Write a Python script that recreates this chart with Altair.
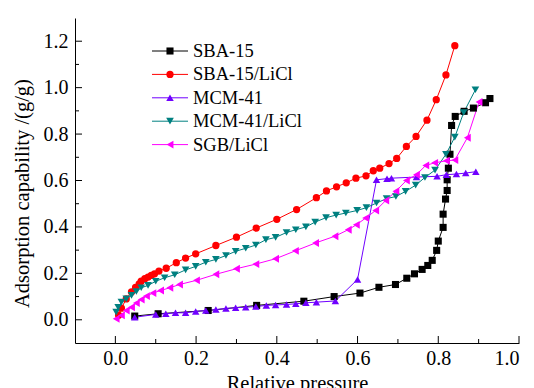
import altair as alt
import pandas as pd

names = ["SBA-15", "SBA-15/LiCl", "MCM-41", "MCM-41/LiCl", "SGB/LiCl"]
colors = ["#000000", "#FF0000", "#7000FF", "#008080", "#FF00FF"]
shapes = ["square", "circle", "triangle-up", "triangle-down", "triangle-left"]

sba15_x = [0.048, 0.106, 0.23, 0.35, 0.467, 0.542, 0.606, 0.653, 0.694, 0.722, 0.741, 0.760, 0.774, 0.785,
           0.796, 0.80, 0.812, 0.812, 0.818, 0.822, 0.822, 0.825, 0.829, 0.833, 0.842, 0.864, 0.887, 0.917, 0.928]
sba15_y = [0.016, 0.026, 0.04, 0.062, 0.08, 0.10, 0.115, 0.14, 0.152, 0.179, 0.198, 0.217, 0.234, 0.256,
           0.299, 0.339, 0.398, 0.455, 0.52, 0.557, 0.603, 0.653, 0.713, 0.837, 0.876, 0.898, 0.912, 0.935, 0.953]

sbal_x = [0.008, 0.015, 0.027, 0.04, 0.05, 0.059, 0.064, 0.073, 0.081, 0.089, 0.097, 0.108, 0.126, 0.151,
          0.174, 0.199, 0.249, 0.30, 0.349, 0.40, 0.449, 0.498, 0.523, 0.548, 0.572, 0.596, 0.621, 0.639,
          0.655, 0.678, 0.697, 0.721, 0.745, 0.772, 0.795, 0.819, 0.841]
sbal_y = [0.02, 0.05, 0.09, 0.12, 0.14, 0.155, 0.166, 0.177, 0.184, 0.191, 0.198, 0.21, 0.222, 0.246,
          0.266, 0.284, 0.32, 0.356, 0.395, 0.433, 0.475, 0.526, 0.555, 0.573, 0.59, 0.61, 0.62, 0.642,
          0.653, 0.673, 0.695, 0.747, 0.79, 0.86, 0.948, 1.055, 1.181]

mcm_x = [0.048, 0.10, 0.125, 0.149, 0.174, 0.199, 0.224, 0.249, 0.274, 0.298, 0.323, 0.348, 0.374, 0.397,
         0.424, 0.447, 0.472, 0.498, 0.545, 0.60, 0.647, 0.673, 0.684, 0.746, 0.797, 0.82, 0.845, 0.868, 0.893]
mcm_y = [0.011, 0.023, 0.026, 0.03, 0.03, 0.036, 0.04, 0.044, 0.049, 0.052, 0.054, 0.057, 0.062, 0.064,
         0.066, 0.069, 0.073, 0.076, 0.081, 0.174, 0.603, 0.608, 0.61, 0.615, 0.618, 0.625, 0.628, 0.632, 0.638]

mcml_x = [0.002, 0.007, 0.015, 0.027, 0.04, 0.052, 0.064, 0.081, 0.10, 0.122, 0.147, 0.174, 0.199, 0.224,
          0.249, 0.274, 0.298, 0.323, 0.348, 0.373, 0.397, 0.424, 0.447, 0.472, 0.495, 0.522, 0.547, 0.571,
          0.599, 0.622, 0.647, 0.672, 0.695, 0.719, 0.744, 0.767, 0.792, 0.819, 0.841, 0.863, 0.892]
mcml_y = [0.033, 0.054, 0.076, 0.09, 0.105, 0.122, 0.138, 0.148, 0.166, 0.181, 0.194, 0.215, 0.23, 0.248,
          0.26, 0.277, 0.295, 0.308, 0.322, 0.345, 0.355, 0.376, 0.388, 0.40, 0.421, 0.44, 0.451, 0.46,
          0.471, 0.483, 0.503, 0.522, 0.531, 0.553, 0.58, 0.613, 0.645, 0.713, 0.787, 0.893, 0.991]

sgb_x = [0.002, 0.015, 0.027, 0.04, 0.052, 0.064, 0.077, 0.093, 0.112, 0.135, 0.159, 0.201, 0.249, 0.30,
         0.348, 0.397, 0.446, 0.496, 0.544, 0.577, 0.597, 0.62, 0.645, 0.67, 0.695, 0.721, 0.746, 0.769,
         0.791, 0.82, 0.841, 0.872, 0.901]
sgb_y = [0.004, 0.019, 0.04, 0.054, 0.072, 0.087, 0.102, 0.115, 0.126, 0.138, 0.152, 0.17, 0.196, 0.22,
         0.24, 0.263, 0.297, 0.331, 0.36, 0.388, 0.409, 0.438, 0.471, 0.514, 0.554, 0.6, 0.625, 0.665,
         0.676, 0.685, 0.688, 0.784, 0.938]

x_major = [0.0, 0.2, 0.4, 0.6, 0.8, 1.0]
x_minor = [0.1, 0.3, 0.5, 0.7, 0.9]
y_major = [0.0, 0.2, 0.4, 0.6, 0.8, 1.0, 1.2]
y_minor = [0.1, 0.3, 0.5, 0.7, 0.9, 1.1]

series = [(sba15_x, sba15_y), (sbal_x, sbal_y), (mcm_x, mcm_y), (mcml_x, mcml_y), (sgb_x, sgb_y)]
rows = []
for name, (xs, ys) in zip(names, series):
    for i, (xv, yv) in enumerate(zip(xs, ys)):
        rows.append({"series": name, "i": i, "p": xv, "a": yv})
df = pd.DataFrame(rows)

W, H = 444, 325
FONT = "Liberation Serif, Times New Roman, serif"

xscale = alt.Scale(domain=[-0.1, 1.0], nice=False, zero=False)
yscale = alt.Scale(domain=[-0.1, 1.3], nice=False, zero=False)
cscale = alt.Scale(domain=names, range=colors)
sscale = alt.Scale(domain=names, range=shapes)
size_range = [50, 62, 75, 75, 75]
zscale = alt.Scale(domain=names, range=size_range)

xaxis = alt.Axis(values=x_major, format=".1f", title="Relative pressure", ticks=False, tickSize=0,
                 labelPadding=5, titlePadding=5)
yaxis = alt.Axis(values=y_major, format=".1f", title="Adsorption capability /(g/g)", ticks=False,
                 tickSize=0, labelPadding=7, titlePadding=11, titleY=175)

base = alt.Chart(df)
lines = base.mark_line(strokeWidth=1).encode(
    x=alt.X("p:Q", scale=xscale, axis=xaxis),
    y=alt.Y("a:Q", scale=yscale, axis=yaxis),
    color=alt.Color("series:N", scale=cscale, legend=None),
    detail="series:N",
    order=alt.Order("i:Q"),
)
points = base.mark_point(filled=True, opacity=1).encode(
    x=alt.X("p:Q", scale=xscale, axis=xaxis),
    y=alt.Y("a:Q", scale=yscale, axis=yaxis),
    color=alt.Color("series:N", scale=cscale, legend=None),
    shape=alt.Shape("series:N", scale=sscale, legend=None),
    size=alt.Size("series:N", scale=zscale, legend=None),
)

xt_major = alt.Chart(pd.DataFrame({"p": x_major})).mark_rule(color="black", strokeWidth=1).encode(
    x=alt.X("p:Q", scale=xscale, axis=xaxis), y=alt.value(H), y2=alt.value(H - 7))
xt_minor = alt.Chart(pd.DataFrame({"p": x_minor})).mark_rule(color="black", strokeWidth=1).encode(
    x=alt.X("p:Q", scale=xscale, axis=xaxis), y=alt.value(H), y2=alt.value(H - 4))
yt_major = alt.Chart(pd.DataFrame({"a": y_major})).mark_rule(color="black", strokeWidth=1).encode(
    y=alt.Y("a:Q", scale=yscale, axis=yaxis), x=alt.value(0), x2=alt.value(7))
yt_minor = alt.Chart(pd.DataFrame({"a": y_minor})).mark_rule(color="black", strokeWidth=1).encode(
    y=alt.Y("a:Q", scale=yscale, axis=yaxis), x=alt.value(0), x2=alt.value(4))

leg_df = pd.DataFrame({"series": names, "k": list(range(len(names)))})
leg = alt.Chart(leg_df).transform_calculate(ly="33 + datum.k * 23.4")
leg_lines = leg.mark_rule(strokeWidth=1).encode(
    x=alt.value(77), x2=alt.value(113), y=alt.Y("ly:Q", scale=None),
    color=alt.Color("series:N", scale=cscale, legend=None))
leg_pts = leg.mark_point(filled=True, opacity=1).encode(
    x=alt.value(95), y=alt.Y("ly:Q", scale=None),
    color=alt.Color("series:N", scale=cscale, legend=None),
    shape=alt.Shape("series:N", scale=sscale, legend=None),
    size=alt.Size("series:N", scale=zscale, legend=None))
leg_txt = leg.mark_text(align="left", baseline="middle", font=FONT, fontSize=18.5, color="black").encode(
    x=alt.value(118), y=alt.Y("ly:Q", scale=None), text="series:N")

chart = alt.layer(lines, points, xt_major, xt_minor, yt_major, yt_minor, leg_lines, leg_pts, leg_txt).properties(
    width=W, height=H,
    autosize=alt.AutoSizeParams(type="none"),
    padding={"left": 67, "top": 10, "right": 5, "bottom": 60},
    background="white",
).configure(font=FONT).configure_text(font=FONT).configure_view(stroke=None).configure_axis(
    labelFont=FONT, titleFont=FONT, labelFontSize=20, titleFontSize=20.5, titleFontWeight="normal",
    labelColor="black", titleColor="black", domainColor="black", domainWidth=1, grid=False,
)

chart.save("out.html", embed_options={"renderer": "svg", "actions": False})
